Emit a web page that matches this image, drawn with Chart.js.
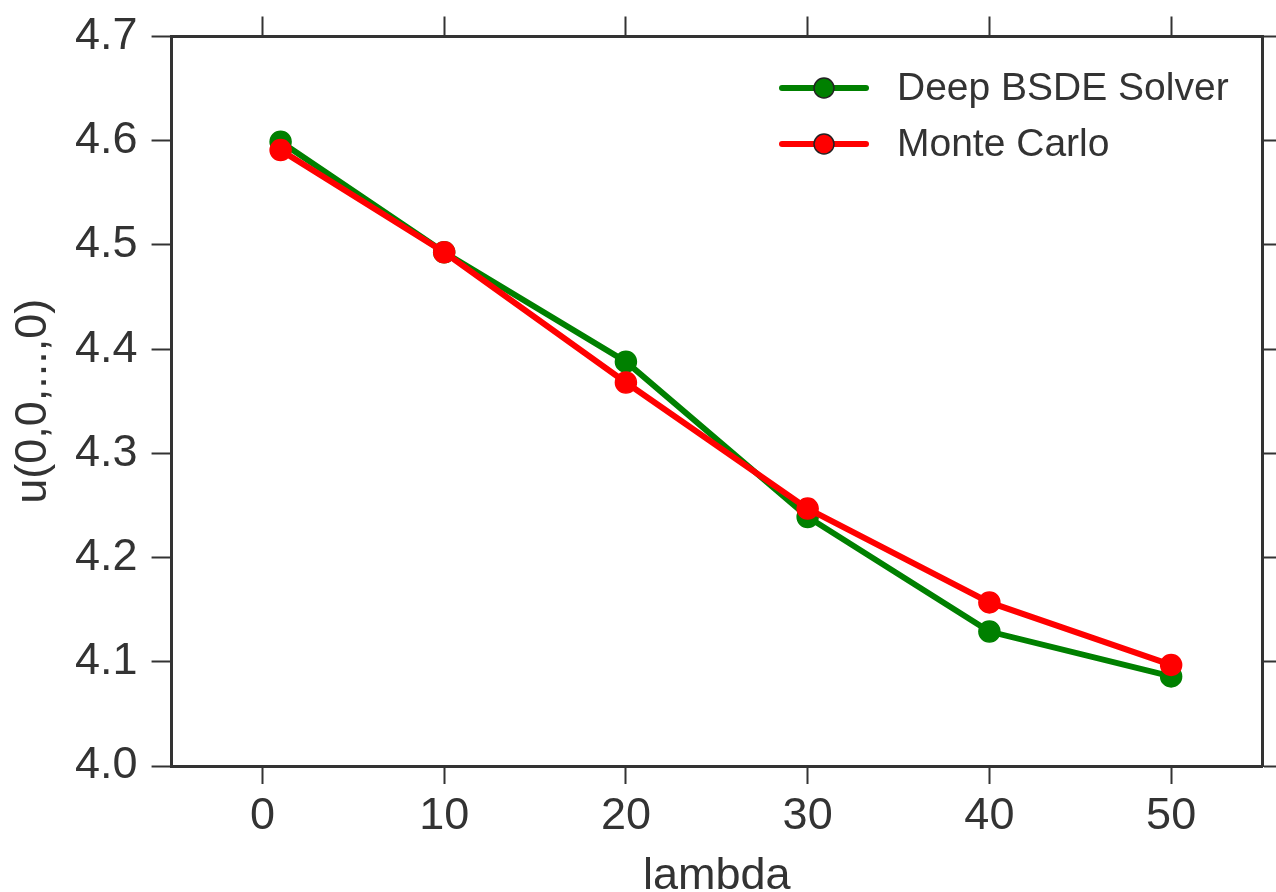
<!DOCTYPE html>
<html>
<head>
<meta charset="utf-8">
<script src="https://cdn.jsdelivr.net/npm/chart.js@4"></script>
<style>
  html, body { margin: 0; padding: 0; background: #fff; }
  #wrap { width: 1276px; height: 892px; }
</style>
</head>
<body>
<div id="wrap"><canvas id="lineChart" width="1276" height="892"></canvas></div>
<script>
// data
const lambdas = [1, 10, 20, 30, 40, 50];
const deepBsde = [4.599, 4.493, 4.388, 4.239, 4.129, 4.086];
const monteCarlo = [4.591, 4.493, 4.368, 4.247, 4.157, 4.097];
const xTicks = [0, 10, 20, 30, 40, 50];
const yTicks = [4.0, 4.1, 4.2, 4.3, 4.4, 4.5, 4.6, 4.7];

const FONT = "'Liberation Sans', Arial, sans-serif";
const INK = '#333333';

// legend drawn inside the plot, top right
const innerLegend = {
    id: 'innerLegend',
    afterDraw(chart) {
        const ctx = chart.ctx;
        const x0 = 782, x1 = 866, tx = 897;
        const rows = [88, 144];
        ctx.save();
        chart.data.datasets.forEach(function (ds, i) {
            const y = rows[i];
            ctx.strokeStyle = ds.borderColor;
            ctx.lineWidth = 6;
            ctx.lineCap = 'round';
            ctx.beginPath();
            ctx.moveTo(x0, y);
            ctx.lineTo(x1, y);
            ctx.stroke();
            ctx.beginPath();
            ctx.arc((x0 + x1) / 2, y, 10, 0, Math.PI * 2);
            ctx.fillStyle = ds.pointBackgroundColor;
            ctx.fill();
            ctx.lineWidth = 1.5;
            ctx.strokeStyle = '#222';
            ctx.stroke();
            ctx.fillStyle = INK;
            ctx.font = '39px ' + FONT;
            ctx.textBaseline = 'middle';
            ctx.fillText(ds.label, tx, y + 1);
        });
        ctx.restore();
    }
};

function fixedTicks(values) {
    return function (scale) {
        scale.ticks = values.map(v => ({ value: v }));
    };
}

document.addEventListener("DOMContentLoaded", function () {
    const ctx = document.getElementById('lineChart').getContext('2d');
    const chart = new Chart(ctx, {
        type: 'line',
        data: {
            datasets: [{
                label: 'Deep BSDE Solver',
                data: lambdas.map((x, i) => ({ x: x, y: deepBsde[i] })),
                borderColor: '#008000',
                pointBackgroundColor: '#008000',
                order: 1
            }, {
                label: 'Monte Carlo',
                data: lambdas.map((x, i) => ({ x: x, y: monteCarlo[i] })),
                borderColor: '#ff0000',
                pointBackgroundColor: '#ff0000',
                order: 0
            }]
        },
        options: {
            responsive: false,
            animation: false,
            layout: { padding: { top: 6, right: 0, bottom: -12, left: 7 } },
            elements: {
                line: { borderWidth: 6, tension: 0 },
                point: { radius: 10.5, borderWidth: 1.5, borderColor: '#222', hoverRadius: 10.5 }
            },
            plugins: {
                legend: { display: false },
                tooltip: { enabled: false }
            },
            scales: {
                x: {
                    type: 'linear',
                    position: 'bottom',
                    min: -5,
                    max: 55,
                    afterBuildTicks: fixedTicks(xTicks),
                    border: { display: true, color: INK, width: 3 },
                    grid: { drawOnChartArea: false, drawTicks: true, tickLength: 18, tickColor: INK, tickWidth: 2 },
                    ticks: { color: INK, font: { family: FONT, size: 45 }, padding: 6 },
                    title: { display: true, text: 'lambda', color: INK, font: { family: FONT, size: 45 }, padding: { top: 0, bottom: 0 } }
                },
                x2: {
                    type: 'linear',
                    position: 'top',
                    min: -5,
                    max: 55,
                    afterBuildTicks: fixedTicks(xTicks),
                    border: { display: true, color: INK, width: 3 },
                    grid: { drawOnChartArea: false, drawTicks: true, tickLength: 20, tickColor: INK, tickWidth: 2 },
                    ticks: { display: false }
                },
                y: {
                    type: 'linear',
                    position: 'left',
                    min: 4.0,
                    max: 4.7,
                    afterBuildTicks: fixedTicks(yTicks),
                    border: { display: true, color: INK, width: 3 },
                    grid: { drawOnChartArea: false, drawTicks: true, tickLength: 20, tickColor: INK, tickWidth: 2 },
                    ticks: { color: INK, font: { family: FONT, size: 45, lineHeight: 1.0 }, padding: 14, callback: v => v.toFixed(1) },
                    title: { display: true, text: 'u(0,0,...,0)', color: INK, font: { family: FONT, size: 45 }, padding: { top: 0, bottom: 0 } }
                },
                y2: {
                    type: 'linear',
                    position: 'right',
                    min: 4.0,
                    max: 4.7,
                    afterBuildTicks: fixedTicks(yTicks),
                    border: { display: true, color: INK, width: 3 },
                    grid: { drawOnChartArea: false, drawTicks: true, tickLength: 14, tickColor: INK, tickWidth: 2 },
                    ticks: { display: false }
                }
            }
        },
        plugins: [innerLegend]
    });
});
</script>
</body>
</html>
